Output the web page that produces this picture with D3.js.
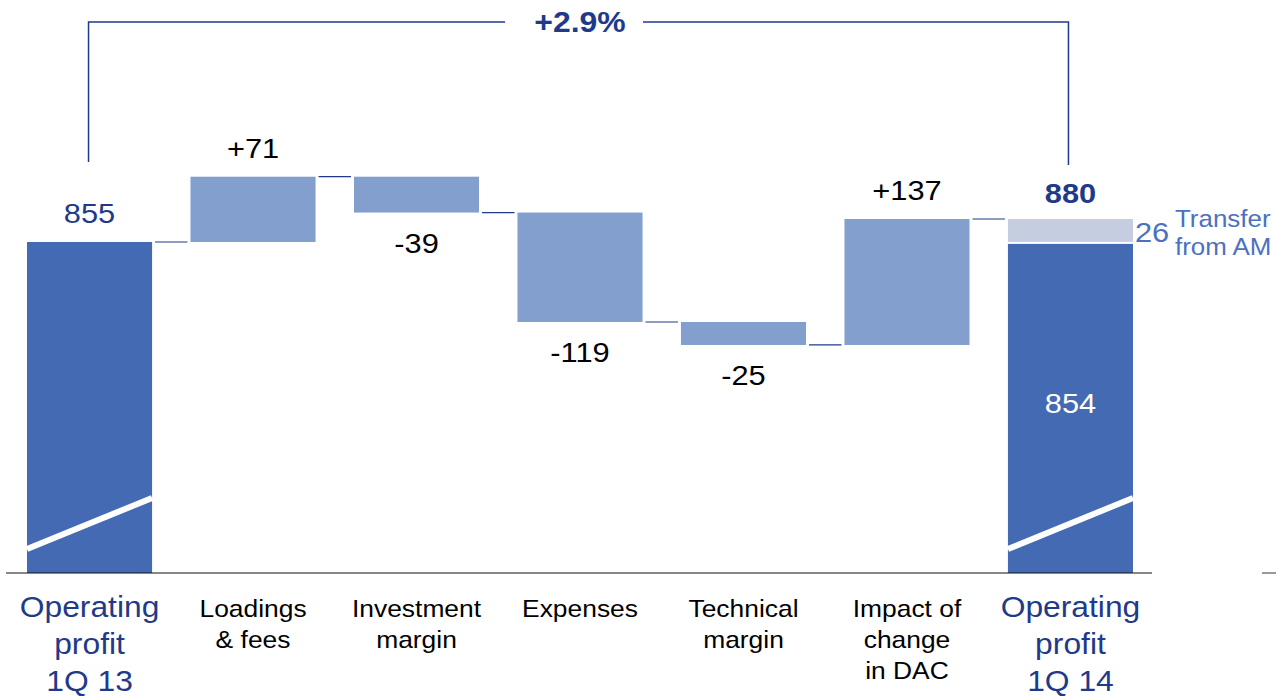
<!DOCTYPE html>
<html>
<head>
<meta charset="utf-8">
<script src="https://cdn.jsdelivr.net/npm/d3@7"></script>
<style>
	body { margin: 0; background: #fff; }
	svg { display: block; font-family: "Liberation Sans", Arial, sans-serif; }
</style>
</head>
<body>
<div id="chart"></div>
<script>
// Data
const categories = ['op13', 'loadings', 'investment', 'expenses', 'technical', 'dac', 'op14'];
const categoryLines = [
	['Operating', 'profit', '1Q 13'],
	['Loadings', '& fees'],
	['Investment', 'margin'],
	['Expenses'],
	['Technical', 'margin'],
	['Impact of', 'change', 'in DAC'],
	['Operating', 'profit', '1Q 14']
];
const startValue = 855;
const deltas = [71, -39, -119, -25, 137];
const endBase = 854;
const endTransfer = 26;
const transferLines = ['Transfer', 'from AM'];
const growthLabel = '+2.9%';

const width = 1276;
const height = 699;
const navy = '#1f3a8a';
const dark = '#436ab3';
const light = '#829fcd';
const pale = '#c5cde0';
const mid = '#4a72c0';
const sx = 1.1; // the source picture is a bit stretched sideways

const svg = d3.select('#chart').append('svg')
	.attr('width', width)
	.attr('height', height);

// x: one band per category
const x = d3.scaleBand()
	.domain(categories)
	.range([27, 1133])
	.paddingInner(0.235)
	.paddingOuter(0);
const bw = x.bandwidth();
const cx = c => x(c) + bw / 2;

// y: broken axis, the baseline stands for 495
const baseY = 573;
const y = d3.scaleLinear()
	.domain([495, 880])
	.range([baseY, 219]);

// running totals for the steps
let total = startValue;
const steps = deltas.map((d, i) => {
	const s = { cat: categories[i + 1], from: total, to: total + d, d: d };
	total += d;
	return s;
});
const endTotal = endBase + endTransfer;

function label(g, txt, px, py, opts) {
	opts = opts || {};
	return g.append('text')
		.attr('transform', `translate(${px},${py}) scale(${opts.sx || sx},1)`)
		.attr('text-anchor', opts.anchor || 'middle')
		.attr('font-size', opts.size || 28)
		.attr('font-weight', opts.bold ? 'bold' : null)
		.attr('fill', opts.fill || '#000')
		.text(txt);
}

// connectors between bars
const levels = [startValue].concat(steps.map(s => s.to));
const connG = svg.append('g').attr('class', 'connectors');
levels.forEach((v, i) => {
	connG.append('line')
		.attr('x1', x(categories[i]) + bw + 3)
		.attr('x2', x(categories[i + 1]) - 3)
		.attr('y1', y(v))
		.attr('y2', y(v))
		.attr('stroke', navy)
		.attr('stroke-width', 1.2);
});

// start bar
svg.append('rect')
	.attr('x', x(categories[0]))
	.attr('y', y(startValue))
	.attr('width', bw)
	.attr('height', baseY - y(startValue))
	.attr('fill', dark);

// step bars
svg.selectAll('rect.step')
	.data(steps)
	.enter().append('rect')
	.attr('class', 'step')
	.attr('x', d => x(d.cat))
	.attr('y', d => y(Math.max(d.from, d.to)))
	.attr('width', bw)
	.attr('height', d => Math.abs(y(d.from) - y(d.to)))
	.attr('fill', light);

// end bar, stacked
const lastCat = categories[categories.length - 1];
svg.append('rect')
	.attr('x', x(lastCat))
	.attr('y', y(endBase) + 1)
	.attr('width', bw)
	.attr('height', baseY - y(endBase) - 1)
	.attr('fill', dark);
svg.append('rect')
	.attr('x', x(lastCat))
	.attr('y', y(endTotal))
	.attr('width', bw)
	.attr('height', y(endBase) - y(endTotal) - 1)
	.attr('fill', pale);

// axis break marks
[categories[0], lastCat].forEach(c => {
	svg.append('line')
		.attr('x1', x(c))
		.attr('x2', x(c) + bw)
		.attr('y1', baseY - 24)
		.attr('y2', baseY - 75)
		.attr('stroke', '#fff')
		.attr('stroke-width', 6);
});

// baseline
svg.append('line')
	.attr('x1', 6).attr('x2', 1152)
	.attr('y1', baseY).attr('y2', baseY)
	.attr('stroke', '#111').attr('stroke-width', 1.2);
svg.append('line')
	.attr('x1', 1262).attr('x2', 1276)
	.attr('y1', baseY).attr('y2', baseY)
	.attr('stroke', '#555').attr('stroke-width', 1.2);

// value labels
const vals = svg.append('g');
label(vals, String(startValue), cx(categories[0]), y(startValue) - 19, { fill: navy });
steps.forEach(s => {
	const txt = (s.d > 0 ? '+' : '') + s.d;
	const py = s.d > 0 ? y(s.to) - 19 : y(s.to) + 40;
	label(vals, txt, cx(s.cat), py);
});
label(vals, String(endTotal), cx(lastCat), y(endTotal) - 16, { fill: navy, bold: true });
label(vals, String(endBase), cx(lastCat), 413, { fill: '#fff' });
label(vals, String(endTransfer), x(lastCat) + bw + 2, y(endBase) - 1, { fill: mid, anchor: 'start' });
// reference crops this note at the page edge; kept whole here
transferLines.forEach((t, i) => {
	label(vals, t, 1175, 227 + i * 28, { fill: mid, anchor: 'start', size: 24, sx: 1.08 });
});

// category labels
const cats = svg.append('g');
categoryLines.forEach((lines, i) => {
	const isTotal = i === 0 || i === categories.length - 1;
	lines.forEach((t, j) => {
		if (isTotal) {
			label(cats, t, cx(categories[i]), 617 + j * 37, { fill: navy, size: 30, sx: 1.06 });
		} else {
			label(cats, t, cx(categories[i]), 617 + j * 31, { size: 24, sx: 1.1 });
		}
	});
});

// growth bracket
const topY = 22;
const midX = (cx(categories[0]) + cx(lastCat)) / 2;
svg.append('path')
	.attr('d', `M${cx(categories[0]) - 1},${y(startValue) - 80} V${topY} H${midX - 75}`)
	.attr('fill', 'none').attr('stroke', navy).attr('stroke-width', 1.5);
svg.append('path')
	.attr('d', `M${midX + 63},${topY} H${cx(lastCat) - 2} V${y(endTotal) - 54}`)
	.attr('fill', 'none').attr('stroke', navy).attr('stroke-width', 1.5);
label(svg, growthLabel, midX, topY + 10, { fill: navy, bold: true, size: 29 });
</script>
</body>
</html>
